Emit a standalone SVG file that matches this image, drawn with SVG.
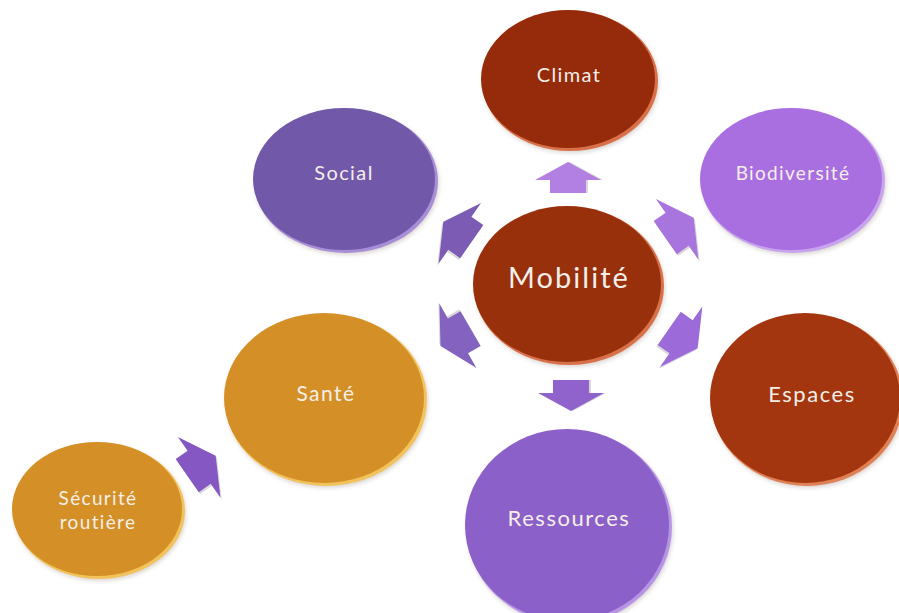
<svg xmlns="http://www.w3.org/2000/svg" width="899" height="613" viewBox="0 0 899 613">
<style>
.lbl{font-family:Lato,"Open Sans","Liberation Sans",sans-serif;fill:#f4efe9;text-anchor:middle;letter-spacing:0.07em}
.sh{fill:#c9c6cc;opacity:0.7}
</style>
<defs>
<path id="arr" d="M -15 -18 L -2 -18 L -2 -33 L 16 0 L -2 33 L -2 18 L -15 18 Z"/>
<filter id="soft" x="-20%" y="-20%" width="140%" height="140%"><feGaussianBlur stdDeviation="2"/></filter>
</defs>
<rect width="899" height="613" fill="#ffffff"/>

<g id="connectors">
  <g transform="translate(568,178) rotate(-90)"><use href="#arr" class="sh" transform="translate(0,2)"/><use href="#arr" fill="#b27fe2"/></g>
  <g transform="translate(571,395) rotate(90)"><use href="#arr" class="sh" transform="translate(0,-2)"/><use href="#arr" fill="#8f62cc"/></g>
  <g transform="translate(458,232) rotate(-145) scale(1.12)"><use href="#arr" class="sh" transform="translate(0,-2)"/><use href="#arr" fill="#7b5bb3"/></g>
  <g transform="translate(679,228) rotate(-35) scale(1.12)"><use href="#arr" class="sh" transform="translate(0,2)"/><use href="#arr" fill="#a874de"/></g>
  <g transform="translate(456,337) rotate(150) scale(1.12)"><use href="#arr" class="sh" transform="translate(0,2)"/><use href="#arr" fill="#8462bf"/></g>
  <g transform="translate(683,338) rotate(35) scale(1.12)"><use href="#arr" class="sh" transform="translate(0,2)"/><use href="#arr" fill="#9d6bd9"/></g>
  <g transform="translate(201,466) rotate(-35) scale(1.12)"><use href="#arr" class="sh" transform="translate(0,2)"/><use href="#arr" fill="#8557c2"/></g>
</g>

<g id="climat">
  <ellipse cx="571" cy="83" rx="88" ry="70" fill="#b7b0a8" opacity="0.5" filter="url(#soft)"/>
  <ellipse cx="570" cy="81" rx="88" ry="70" fill="#d8714a"/>
  <ellipse cx="568" cy="79" rx="87" ry="69" fill="#952b0a"/>
  <text class="lbl" x="569" y="82" font-size="20">Climat</text>
</g>

<g id="social">
  <ellipse cx="347" cy="183" rx="92" ry="72" fill="#b7b0a8" opacity="0.5" filter="url(#soft)"/>
  <ellipse cx="346" cy="181" rx="92" ry="72" fill="#a88ed6"/>
  <ellipse cx="344" cy="179" rx="91" ry="71" fill="#7158a8"/>
  <text class="lbl" x="344" y="180" font-size="20">Social</text>
</g>

<g id="biodiversite">
  <ellipse cx="794" cy="183" rx="92" ry="72" fill="#b7b0a8" opacity="0.5" filter="url(#soft)"/>
  <ellipse cx="793" cy="181" rx="92" ry="72" fill="#c8a3ee"/>
  <ellipse cx="791" cy="179" rx="91" ry="71" fill="#a96ee0"/>
  <text class="lbl" x="793" y="180" font-size="19">Biodiversité</text>
</g>

<g id="mobilite">
  <ellipse cx="570" cy="288" rx="95" ry="79" fill="#b7b0a8" opacity="0.5" filter="url(#soft)"/>
  <ellipse cx="569" cy="286" rx="95" ry="79" fill="#d8714a"/>
  <ellipse cx="567" cy="284" rx="94" ry="78" fill="#98300c"/>
  <text class="lbl" x="569" y="288" font-size="29">Mobilité</text>
</g>

<g id="sante">
  <ellipse cx="327" cy="402" rx="101" ry="86" fill="#b7b0a8" opacity="0.5" filter="url(#soft)"/>
  <ellipse cx="326" cy="400" rx="101" ry="86" fill="#f2c25c"/>
  <ellipse cx="324" cy="398" rx="100" ry="85" fill="#d48f27"/>
  <text class="lbl" x="326" y="401" font-size="21">Santé</text>
</g>

<g id="espaces">
  <ellipse cx="808" cy="402" rx="96" ry="86" fill="#b7b0a8" opacity="0.5" filter="url(#soft)"/>
  <ellipse cx="807" cy="400" rx="96" ry="86" fill="#e08055"/>
  <ellipse cx="805" cy="398" rx="95" ry="85" fill="#a3360f"/>
  <text class="lbl" x="812" y="402" font-size="22">Espaces</text>
</g>

<g id="ressources">
  <ellipse cx="570" cy="529" rx="103" ry="97" fill="#b7b0a8" opacity="0.5" filter="url(#soft)"/>
  <ellipse cx="569" cy="527" rx="103" ry="97" fill="#b795e6"/>
  <ellipse cx="567" cy="525" rx="102" ry="96" fill="#8b60c8"/>
  <text class="lbl" x="569" y="526" font-size="22">Ressources</text>
</g>

<g id="securite">
  <ellipse cx="100" cy="513" rx="86" ry="68" fill="#b7b0a8" opacity="0.5" filter="url(#soft)"/>
  <ellipse cx="99" cy="511" rx="86" ry="68" fill="#f2c25c"/>
  <ellipse cx="97" cy="509" rx="85" ry="67" fill="#d48f27"/>
  <text class="lbl" x="98" y="505" font-size="19">Sécurité</text>
  <text class="lbl" x="98" y="529" font-size="19">routière</text>
</g>
</svg>
